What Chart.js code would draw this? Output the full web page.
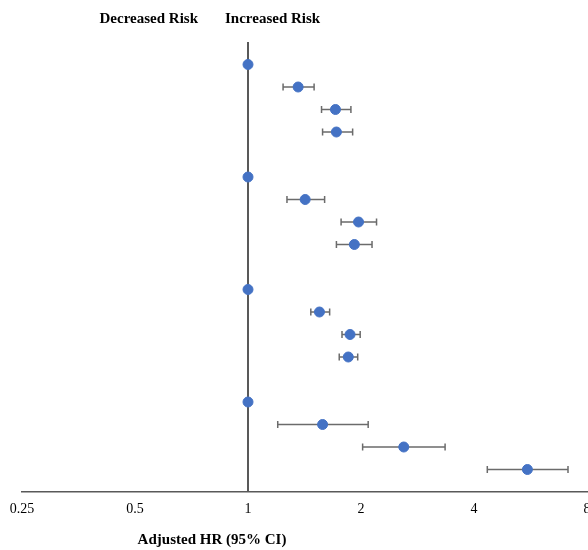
<!DOCTYPE html>
<html>
<head>
<meta charset="utf-8">
<script src="https://cdn.jsdelivr.net/npm/chart.js"></script>
<style>
  html, body { margin: 0; padding: 0; background: #fff; overflow: hidden; }
</style>
</head>
<body>
<canvas id="forest" width="588" height="550"></canvas>
<script>
// rows top to bottom (row index used on the hidden y scale)
const rows  = [0, 1, 2, 3, 4, 5, 6, 7, 8, 9, 10, 11, 12, 13, 14, 15];
const slots = [0, 1, 2, 3, 5, 6, 7, 8, 10, 11, 12, 13, 15, 16, 17, 18];
const hr    = [1, 1.36, 1.71, 1.72, 1, 1.42, 1.97, 1.92, 1, 1.55, 1.87, 1.85, 1, 1.58, 2.60, 5.55];
const lo    = [null, 1.24, 1.57, 1.58, null, 1.27, 1.77, 1.72, null, 1.47, 1.78, 1.75, null, 1.20, 2.02, 4.34];
const hi    = [null, 1.50, 1.88, 1.90, null, 1.60, 2.20, 2.14, null, 1.65, 1.99, 1.96, null, 2.09, 3.35, 7.12];
const xTicks = [0.25, 0.5, 1, 2, 4, 8];

const serif = '"Liberation Serif", "Times New Roman", serif';
const points = rows.map(i => ({ x: hr[i], y: slots[i] }));

const errorBars = {
  id: 'errorBars',
  beforeDatasetsDraw(chart) {
    const { ctx, scales: { x, y } } = chart;
    ctx.save();
    ctx.strokeStyle = '#6b6b6b';
    ctx.lineWidth = 1.5;
    rows.forEach(i => {
      if (lo[i] == null) return;
      const py = y.getPixelForValue(slots[i]);
      const x1 = x.getPixelForValue(lo[i]);
      const x2 = x.getPixelForValue(hi[i]);
      ctx.beginPath();
      ctx.moveTo(x1, py); ctx.lineTo(x2, py);
      ctx.moveTo(x1, py - 3.5); ctx.lineTo(x1, py + 3.5);
      ctx.moveTo(x2, py - 3.5); ctx.lineTo(x2, py + 3.5);
      ctx.stroke();
    });
    ctx.restore();
  }
};

const labels = {
  id: 'labels',
  afterDraw(chart) {
    const { ctx } = chart;
    ctx.save();
    ctx.fillStyle = '#000';
    ctx.font = 'bold 15px ' + serif;
    ctx.textBaseline = 'middle';
    ctx.textAlign = 'right';
    ctx.fillText('Decreased Risk', 198, 19);
    ctx.textAlign = 'left';
    ctx.fillText('Increased Risk', 225, 19);
    ctx.textAlign = 'center';
    ctx.fillText('Adjusted HR (95% CI)', 212, 540);
    ctx.restore();
  }
};

new Chart(document.getElementById('forest'), {
  type: 'scatter',
  data: {
    datasets: [{
      data: points,
      backgroundColor: '#4472C4',
      borderColor: '#4472C4',
      pointRadius: 5,
      pointHoverRadius: 5,
      order: 1
    }, {
      type: 'line',
      data: [{ x: 1, y: -1 }, { x: 1, y: 19 }],
      borderColor: '#595959',
      borderWidth: 2,
      pointRadius: 0,
      order: 2
    }]
  },
  options: {
    responsive: false,
    animation: false,
    events: [],
    layout: { autoPadding: false, padding: { top: 42, left: 22, right: 1, bottom: 0 } },
    plugins: { legend: { display: false }, tooltip: { enabled: false } },
    scales: {
      x: {
        type: 'logarithmic',
        min: 0.25,
        max: 8,
        afterBuildTicks: s => { s.ticks = xTicks.map(v => ({ value: v })); },
        afterFit: s => { s.paddingLeft = 0; s.paddingRight = 0; s.height = 58; },
        grid: { display: false, drawTicks: false },
        border: { color: '#595959', width: 1.5 },
        ticks: {
          padding: 9,
          color: '#000',
          maxRotation: 0,
          autoSkip: false,
          font: { family: serif, size: 14 },
          callback: v => String(v)
        }
      },
      y: {
        type: 'linear',
        min: -1,
        max: 19,
        reverse: true,
        display: false
      }
    }
  },
  plugins: [errorBars, labels]
});
</script>
</body>
</html>
